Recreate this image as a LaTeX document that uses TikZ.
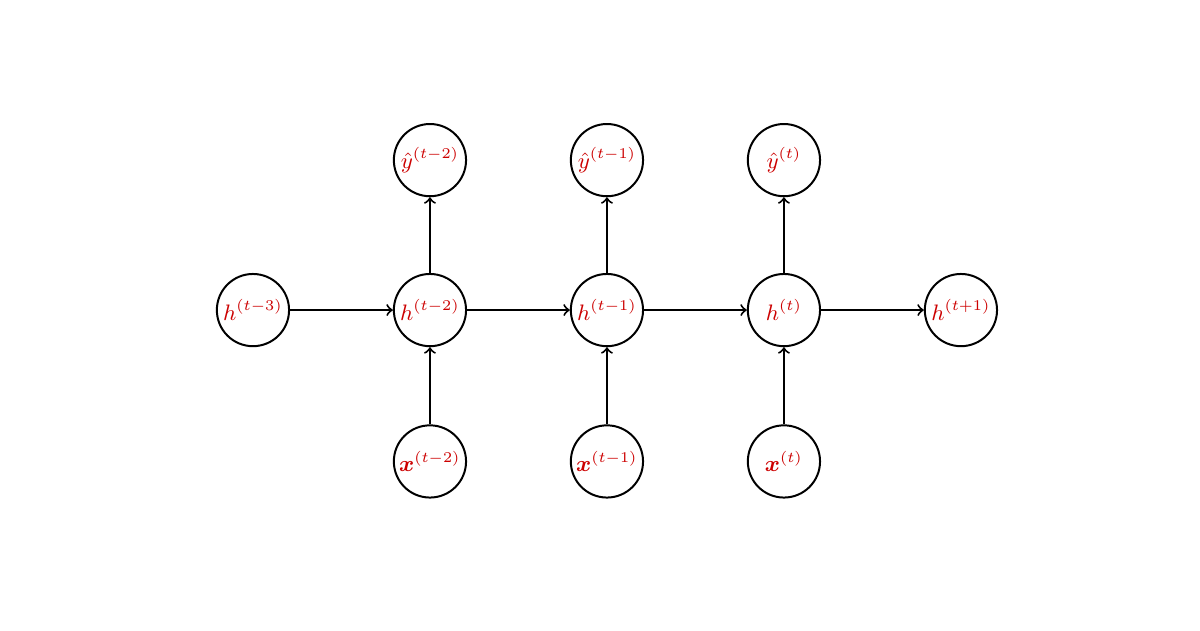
\documentclass[tikz,border=0pt]{standalone}
\usepackage{amsmath,amssymb,bm}
\usepackage{tikz}
\usetikzlibrary{positioning}
\definecolor{labelred}{RGB}{204,0,0}
\tikzset{
  unit/.style={circle, draw=black, line width=0.8pt, minimum size=1.02cm, inner sep=0pt, text=labelred, font=\small},
  arr/.style={->, line width=0.8pt, draw=black},
}

\begin{document}
\begin{tikzpicture}
  \useasboundingbox (0,0) rectangle (16.95,8.9);
  % hidden states
  \node[unit] (h3) at (3.573,4.52) {$h^{(t-3)}$};
  \node[unit] (h2) at (6.073,4.52) {$h^{(t-2)}$};
  \node[unit] (h1) at (8.573,4.52) {$h^{(t-1)}$};
  \node[unit] (h0) at (11.073,4.52) {$h^{(t)}$};
  \node[unit] (hn) at (13.573,4.52) {$h^{(t+1)}$};
  % outputs
  \node[unit,above=1.07cm of h2] (y2) {$\hat{y}^{(t-2)}$};
  \node[unit,above=1.07cm of h1] (y1) {$\hat{y}^{(t-1)}$};
  \node[unit,above=1.07cm of h0] (y0) {$\hat{y}^{(t)}$};
  % inputs
  \node[unit,below=1.09cm of h2] (x2) {$\bm{x}^{(t-2)}$};
  \node[unit,below=1.09cm of h1] (x1) {$\bm{x}^{(t-1)}$};
  \node[unit,below=1.09cm of h0] (x0) {$\bm{x}^{(t)}$};
  % recurrence
  \draw[arr] (h3) -- (h2);
  \draw[arr] (h2) -- (h1);
  \draw[arr] (h1) -- (h0);
  \draw[arr] (h0) -- (hn);
  \draw[arr] (x2) -- (h2);
  \draw[arr] (x1) -- (h1);
  \draw[arr] (x0) -- (h0);
  \draw[arr] (h2) -- (y2);
  \draw[arr] (h1) -- (y1);
  \draw[arr] (h0) -- (y0);
\end{tikzpicture}
\end{document}
